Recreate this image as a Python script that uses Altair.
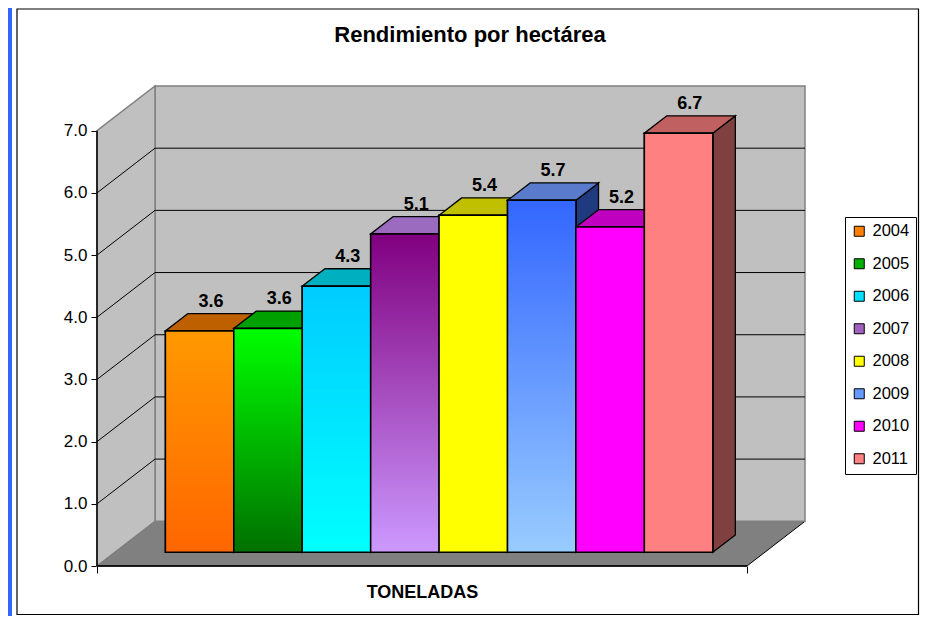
import altair as alt
import pandas as pd

# ---------------- data ----------------
YEARS = ["2004", "2005", "2006", "2007", "2008", "2009", "2010", "2011"]
VALUES = [3.56, 3.60, 4.28, 5.12, 5.42, 5.66, 5.23, 6.74]
Y_TICKS = [0, 1, 2, 3, 4, 5, 6, 7]
GRID_VALUES = [1, 2, 3, 4, 5, 6]
TITLE = "Rendimiento por hectárea"
X_TITLE = "TONELADAS"

# ---------------- style ----------------
FRONT_TOP = ["#FF9900", "#00FF00", "#00CCFF", "#800080", "#FFFF00", "#3366FF", "#FF00FF", "#FF8080"]
FRONT_BOTTOM = ["#FF6600", "#007000", "#00FFFF", "#CC99FF", "#FFFF00", "#99CCFF", "#FF00FF", "#FF8080"]
TOP_COLORS = ["#BF6000", "#00A000", "#00B0C0", "#9B6BC0", "#C0C000", "#5A7ACC", "#C000C0", "#C06060"]
SIDE_COLORS = ["#9A4A00", "#006000", "#0090A0", "#500050", "#909000", "#203A80", "#900090", "#804040"]
LEGEND_COLORS = ["#FF7F00", "#00B000", "#00E0FF", "#A060C0", "#FFFF00", "#6699FF", "#FF00FF", "#FF8080"]
FONT = "Liberation Sans"

# 3-D projection (in data units)
DX, DY = 0.848, 0.719          # full depth of the box
FLOOR_W = 9.5                  # width of front edge of floor
XMAX = FLOOR_W + DX
YTOP = 7
YMAX = YTOP + DY
GAP = 0.74                     # gap before first bar (front plane)
B0X, B0Y = 0.26, 0.22          # depth position of bar fronts
DXB, DYB = 0.33, 0.28          # bar depth

xs = alt.Scale(domain=[0, XMAX], nice=False, zero=False)
ys = alt.Scale(domain=[0, YMAX], nice=False, zero=False)

x_axis = alt.Axis(values=[0, FLOOR_W], labels=False, domain=False, grid=False,
                  tickColor="black", tickSize=7, tickWidth=1,
                  title=X_TITLE, titleFont=FONT, titleFontSize=18, titleFontWeight="bold",
                  titleColor="black", titleX=325, titleY=31, titleBaseline="alphabetic",
                  titleAlign="center")
y_axis = alt.Axis(values=Y_TICKS, format=".1f", domain=False, grid=False,
                  tickColor="black", tickSize=6, tickWidth=1,
                  labelFont=FONT, labelFontSize=17, labelColor="black", labelPadding=4,
                  title=None)


def X(f):
    return alt.X(f, scale=xs, axis=x_axis)


def Y(f):
    return alt.Y(f, scale=ys, axis=y_axis)


# ---------------- geometry tables ----------------
rows = []
for i, (yr, v) in enumerate(zip(YEARS, VALUES)):
    x0 = GAP + B0X + i
    rows.append(dict(year=yr, value=v, x0=x0, x1=x0 + 1, y0=B0Y, y1=v + B0Y,
                     lx=x0 + 0.5 + DXB / 2, ly=v + B0Y + DYB))
bars = pd.DataFrame(rows)

side_rows, top_rows = [], []
for i, r in bars.iterrows():
    side_rows.append(dict(year=r.year, x=r.x1, lo=r.y0, hi=r.y1, c=SIDE_COLORS[i]))
    side_rows.append(dict(year=r.year, x=r.x1 + DXB, lo=r.y0 + DYB, hi=r.y1 + DYB, c=SIDE_COLORS[i]))
    top_rows.append(dict(year=r.year, y=r.y1, xl=r.x0, xr=r.x1, c=TOP_COLORS[i]))
    top_rows.append(dict(year=r.year, y=r.y1 + DYB, xl=r.x0 + DXB, xr=r.x1 + DXB, c=TOP_COLORS[i]))
sides = pd.DataFrame(side_rows)
tops = pd.DataFrame(top_rows)

floor = pd.DataFrame({"y": [0, DY], "xl": [0, DX], "xr": [FLOOR_W, FLOOR_W + DX]})
back = pd.DataFrame({"x": [DX], "x2": [XMAX], "y": [DY], "y2": [YMAX]})
lwall = pd.DataFrame({"x": [0, DX], "y": [0, DY], "y2": [YTOP, YTOP + DY]})

grid_rows = []
for v in GRID_VALUES:
    grid_rows += [dict(v=v, k=0, x=0, y=v), dict(v=v, k=1, x=DX, y=v + DY),
                  dict(v=v, k=2, x=XMAX, y=v + DY)]
grid = pd.DataFrame(grid_rows)
axis_lines = pd.DataFrame({"x": [0, 0], "x2": [0, FLOOR_W], "y": [0, 0], "y2": [YTOP, 0]})

# ---------------- layers ----------------
floor_l = alt.Chart(floor).mark_area(orient="horizontal", fill="#808080", stroke="black",
                                     strokeWidth=1).encode(
    y=Y("y:Q"), x=X("xl:Q"), x2="xr:Q")

back_l = alt.Chart(back).mark_rect(fill="#C0C0C0", stroke="#808080", strokeWidth=1.5).encode(
    x=X("x:Q"), x2="x2:Q", y=Y("y:Q"), y2="y2:Q")

lwall_l = alt.Chart(lwall).mark_area(orient="vertical", fill="#C0C0C0", stroke="#808080",
                                     strokeWidth=1.5).encode(
    x=X("x:Q"), y=Y("y:Q"), y2="y2:Q")

grid_l = alt.Chart(grid).mark_line(color="black", strokeWidth=1).encode(
    x=X("x:Q"), y=Y("y:Q"), detail="v:N", order="k:Q")

axis_l = alt.Chart(axis_lines).mark_rule(color="black", strokeWidth=1.5).encode(
    x=X("x:Q"), x2="x2:Q", y=Y("y:Q"), y2="y2:Q")

sides_l = alt.Chart(sides).mark_area(orient="vertical", stroke="black", strokeWidth=1.3).encode(
    x=X("x:Q"), y=Y("lo:Q"), y2="hi:Q",
    fill=alt.Fill("c:N", scale=None), detail="year:N")

tops_l = alt.Chart(tops).mark_area(orient="horizontal", stroke="black", strokeWidth=1.3).encode(
    y=Y("y:Q"), x=X("xl:Q"), x2="xr:Q",
    fill=alt.Fill("c:N", scale=None), detail="year:N")

legend = alt.Legend(title=None, orient="none", legendX=748, legendY=131, direction="vertical",
                    padding=6, strokeColor="black", fillColor="white",
                    symbolType="square", symbolSize=100, symbolStrokeColor="black",
                    symbolStrokeWidth=1, labelFont=FONT, labelFontSize=16.5, labelColor="black",
                    rowPadding=15.5, labelOffset=5)

front_base = alt.Chart(bars).mark_rect(stroke="black", strokeWidth=1.5).encode(
    x=X("x0:Q"), x2="x1:Q", y=Y("y0:Q"), y2="y1:Q",
    fill=alt.Fill("year:N", scale=alt.Scale(domain=YEARS, range=LEGEND_COLORS), legend=legend))

fronts = []
for i, yr in enumerate(YEARS):
    grad = alt.Gradient(gradient="linear", x1=0, x2=0, y1=0, y2=1,
                        stops=[alt.GradientStop(color=FRONT_TOP[i], offset=0),
                               alt.GradientStop(color=FRONT_BOTTOM[i], offset=1)])
    fronts.append(
        alt.Chart(bars).transform_filter(alt.datum.year == yr)
        .mark_rect(fill=grad, stroke="black", strokeWidth=1.5).encode(
            x=X("x0:Q"), x2="x1:Q", y=Y("y0:Q"), y2="y1:Q"))

labels_l = alt.Chart(bars).mark_text(font=FONT, fontSize=18, fontWeight="bold", color="black",
                                     baseline="alphabetic", dy=-7).encode(
    x=X("lx:Q"), y=Y("ly:Q"), text=alt.Text("value:Q", format=".1f"))

one = pd.DataFrame({"t": [TITLE]})
strip_l = alt.Chart(one).mark_rect(fill="#3366FF").encode(
    x=alt.value(-89), x2=alt.value(-85), y=alt.value(-78), y2=alt.value(530))
frame_l = alt.Chart(one).mark_rect(filled=False, stroke="black", strokeWidth=1.2).encode(
    x=alt.value(-80), x2=alt.value(821.5), y=alt.value(-77), y2=alt.value(528.5))
title_l = alt.Chart(one).mark_text(font=FONT, fontSize=22, fontWeight="bold", color="black",
                                   baseline="alphabetic", align="center").encode(
    x=alt.value(373), y=alt.value(-44), text="t:N")

chart = alt.layer(
    strip_l, frame_l, title_l, floor_l, back_l, lwall_l, grid_l, axis_l,
    sides_l, tops_l, front_base, *fronts, labels_l
).properties(
    width=708, height=480,
    autosize=alt.AutoSizeParams(type="none"),
    padding={"left": 89, "top": 78, "right": 115, "bottom": 50},
    background="white",
).configure_view(strokeWidth=0)

chart.save("out.html", embed_options={"renderer": "svg", "actions": False})
